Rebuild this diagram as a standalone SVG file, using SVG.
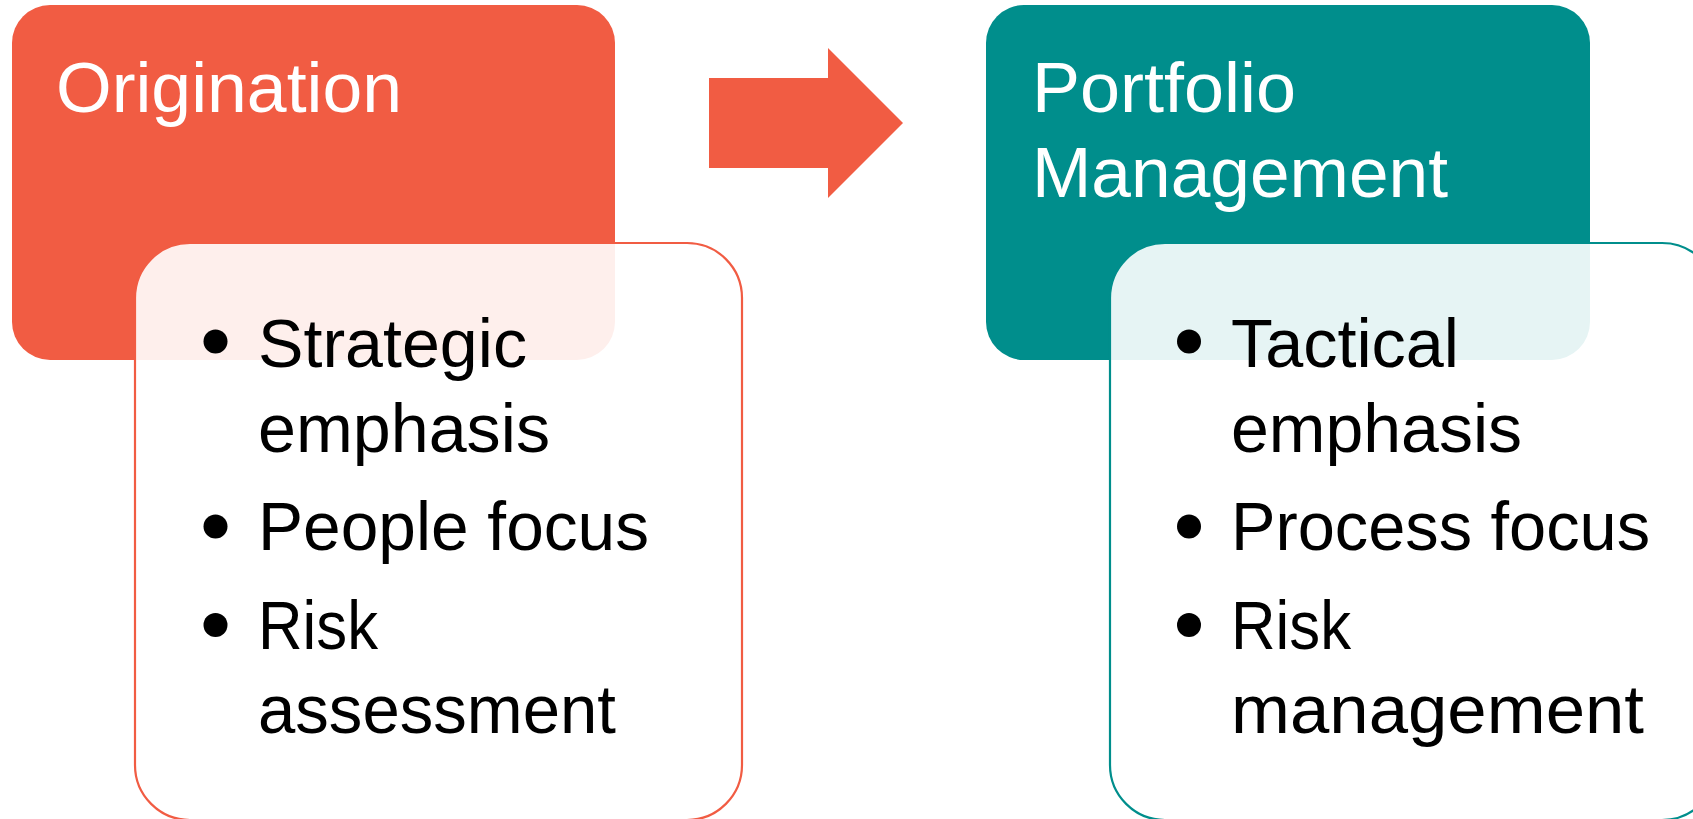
<svg xmlns="http://www.w3.org/2000/svg" width="1693" height="819" viewBox="0 0 1693 819">
<style>
.title{font-family:"Liberation Sans",Arial,sans-serif;font-size:71px;fill:#ffffff}
.item{font-family:"Liberation Sans",Arial,sans-serif;font-size:68px;fill:#000000}
.panel{fill:#ffffff;fill-opacity:0.9;stroke-width:2.2}
</style>
<rect width="1693" height="819" fill="#ffffff"/>
<g id="origination">
<rect x="12" y="5" width="603" height="355" rx="38" fill="#F15C43"/>
<text class="title" x="56" y="112" textLength="346" lengthAdjust="spacingAndGlyphs">Origination</text>
</g>
<g id="origination-details">
<rect class="panel" x="135" y="243" width="607" height="577" rx="55" stroke="#F15C43"/>
<circle cx="215.5" cy="341.5" r="12"/>
<circle cx="215.5" cy="526.5" r="12"/>
<circle cx="215.5" cy="625" r="12"/>
<text class="item" x="258" y="366.5" textLength="269" lengthAdjust="spacingAndGlyphs">Strategic</text>
<text class="item" x="258" y="451.5" textLength="292" lengthAdjust="spacingAndGlyphs">emphasis</text>
<text class="item" x="258" y="550" textLength="391" lengthAdjust="spacingAndGlyphs">People focus</text>
<text class="item" x="258" y="649" textLength="120" lengthAdjust="spacingAndGlyphs">Risk</text>
<text class="item" x="258" y="733" textLength="358" lengthAdjust="spacingAndGlyphs">assessment</text>
</g>
<g id="portfolio">
<rect x="986" y="5" width="604" height="355" rx="38" fill="#008E8C"/>
<text class="title" x="1032" y="111.5" textLength="264" lengthAdjust="spacingAndGlyphs">Portfolio</text>
<text class="title" x="1032" y="196.5" textLength="416" lengthAdjust="spacingAndGlyphs">Management</text>
</g>
<g id="portfolio-details">
<rect class="panel" x="1110" y="243" width="607" height="577" rx="55" stroke="#008E8C"/>
<circle cx="1189" cy="341.5" r="12"/>
<circle cx="1189" cy="526.5" r="12"/>
<circle cx="1189" cy="625" r="12"/>
<text class="item" x="1231" y="366.5" textLength="228" lengthAdjust="spacingAndGlyphs">Tactical</text>
<text class="item" x="1231" y="451.5" textLength="291" lengthAdjust="spacingAndGlyphs">emphasis</text>
<text class="item" x="1231" y="550" textLength="419" lengthAdjust="spacingAndGlyphs">Process focus</text>
<text class="item" x="1231" y="649" textLength="120" lengthAdjust="spacingAndGlyphs">Risk</text>
<text class="item" x="1231" y="733" textLength="413" lengthAdjust="spacingAndGlyphs">management</text>
</g>
<g id="connectors">
<polygon points="709,78 828,78 828,48 903,123 828,198 828,168 709,168" fill="#F15C43"/>
</g>
</svg>
